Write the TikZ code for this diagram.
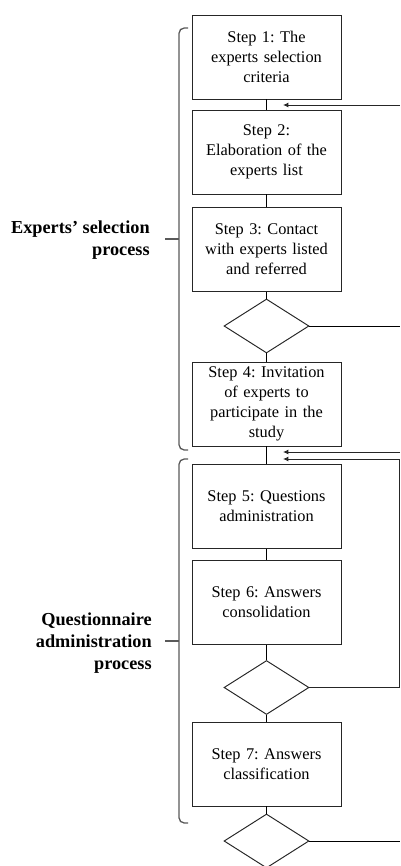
\documentclass[tikz,border=0pt]{standalone}
\usepackage{fontspec}
\setmainfont{Liberation Serif}
\usetikzlibrary{shapes.geometric,arrows.meta}
\frenchspacing
\begin{document}
\begin{tikzpicture}[x=0.02cm,y=-0.02cm,line width=0.55pt,
    stepbox/.style={draw=black!85,minimum width=2.98cm,minimum height=1.68cm,text width=2.8cm,align=center,inner sep=0pt,font=\fontsize{9.3}{11.3}\selectfont},
    decision/.style={draw=black!85,diamond,minimum width=1.7cm,minimum height=1.08cm,inner sep=0pt},
    bracket/.style={draw=black!65,line width=0.75pt,rounded corners=3pt},
    phase/.style={align=right,anchor=east,font=\fontsize{10.4}{12.5}\selectfont\bfseries},
    back/.style={draw=black!85,-{Latex[length=3pt,width=2.8pt]}}]
                \useasboundingbox (0,0) rectangle (400,866);
                \node[stepbox] (s1) at (266.5,57) {Step 1: The\\experts selection\\criteria};
                \node[stepbox] (s2) at (266.5,152) {Step 2:\\Elaboration of the\\experts list};
                \node[stepbox] (s3) at (266.5,249.5) {Step 3: Contact\\with experts listed\\and referred};
                \node[decision] (d1) at (266.5,326) {};
                \node[stepbox] (s4) at (266.5,404) {Step 4: Invitation\\of experts to\\participate in the\\study};
                \node[stepbox] (s5) at (266.5,506.5) {Step 5: Questions\\administration};
                \node[stepbox] (s6) at (266.5,602.5) {Step 6: Answers\\consolidation};
                \node[decision] (d2) at (266.5,687.5) {};
                \node[stepbox] (s7) at (266.5,764) {Step 7: Answers\\classification};
                \node[decision] (d3) at (266.5,841) {};
                \draw (s1) -- (s2) -- (s3) -- (d1) -- (s4) -- (s5) -- (s6) -- (d2) -- (s7) -- (d3);
                \coordinate (in1) at (400,105);
                \coordinate (tip1) at (283,105);
                \coordinate (out1) at (400,326);
                \coordinate (in2) at (400,452);
                \coordinate (tip2) at (283,452);
                \coordinate (turn2) at (399,687.5);
                \coordinate (turn3) at (399,459);
                \coordinate (tip3) at (283,459);
                \coordinate (out3) at (400,841);
                \draw[back] (in1) -- (tip1);
                \draw (d1.east) -- (out1);
                \draw[back] (in2) -- (tip2);
                \draw[back] (d2.east) -- (turn2) -- (turn3) -- (tip3);
                \draw (d3.east) -- (out3);
                \draw[bracket] (188,28) -- (179,28) -- (179,450) -- (188,450);
                \draw[bracket] (179,239) coordinate (b1) -- (165,239);
                \draw[bracket] (188,459) -- (179,459) -- (179,823) -- (188,823);
                \draw[bracket] (179,641) coordinate (b2) -- (165,641);
                \node[phase] (p1) at (156,240) {Experts' selection\\process};
                \node[phase] (p2) at (158,643) {Questionnaire\\administration\\process};
            \end{tikzpicture}
\end{document}
